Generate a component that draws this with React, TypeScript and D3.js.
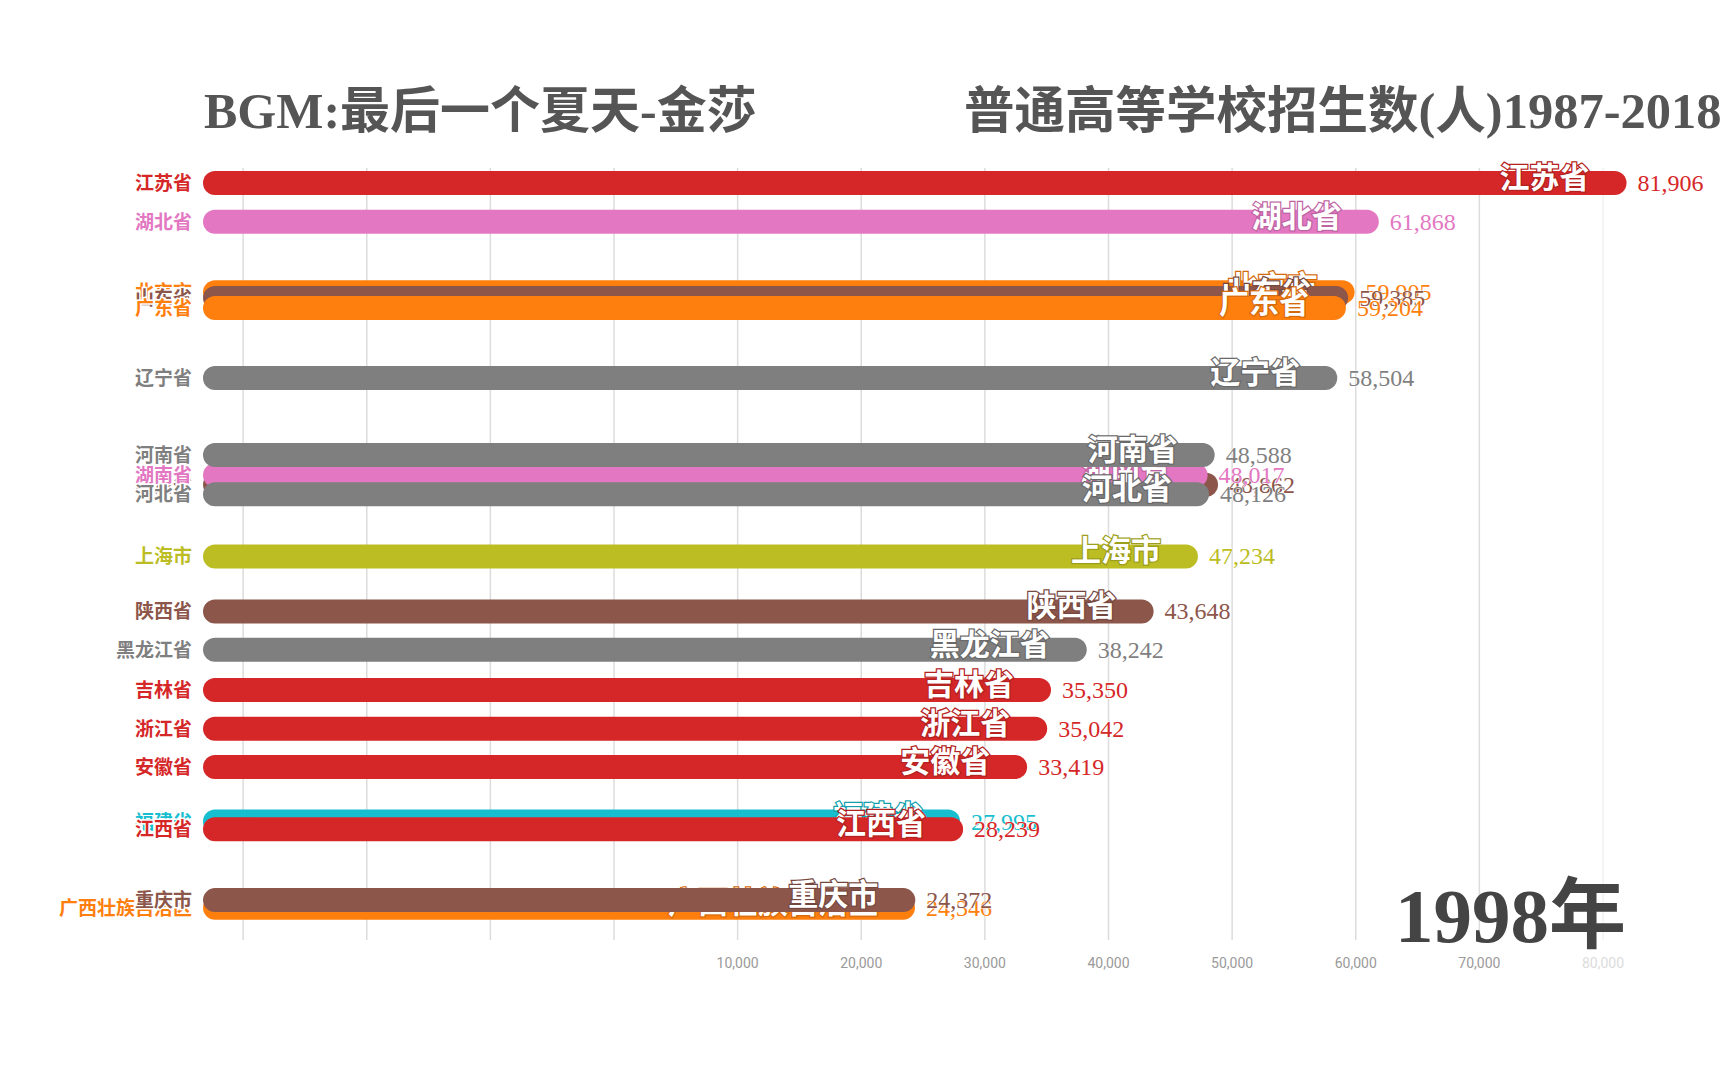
import React from "react";
import * as d3 from "d3";

// ---- data (frame of 1998) ----
const provinces = [
  "北京市", "山东省", "广东省", "江苏省", "湖北省", "辽宁省",
  "四川省", "湖南省", "河南省", "河北省", "上海市", "陕西省",
  "黑龙江省", "吉林省", "浙江省", "安徽省", "福建省", "江西省",
  "广西壮族自治区", "重庆市",
];
const values = [
  59905, 59385, 59204, 81906, 61868, 58504,
  48862, 48017, 48588, 48126, 47234, 43648,
  38242, 35350, 35042, 33419, 27995, 28239,
  24346, 24372,
];
// interpolated (fractional) rank of each bar in this animation frame
const ranks = [
  2.82, 2.97, 3.23, 0, 1, 5.04,
  7.8, 7.55, 7.03, 8.04, 9.65, 11.07,
  12.06, 13.1, 14.1, 15.09, 16.5, 16.7,
  18.73, 18.53,
];
const tickValues = d3.range(-30000, 80001, 10000);
const yearLabel = "1998年";
const titleLeft = "BGM:最后一个夏天-金莎";
const titleRight = "普通高等学校招生数(人)1987-2018";

// ---- styles ----
const palette: Record<string, string> = {
  "江苏省": "#d62728", "湖北省": "#e377c2", "北京市": "#ff7f0e", "山东省": "#8c564b",
  "广东省": "#ff7f0e", "辽宁省": "#7f7f7f", "四川省": "#8c564b", "河南省": "#7f7f7f",
  "湖南省": "#e377c2", "河北省": "#7f7f7f", "上海市": "#bcbd22", "陕西省": "#8c564b",
  "黑龙江省": "#7f7f7f", "吉林省": "#d62728", "浙江省": "#d62728", "安徽省": "#d62728",
  "福建省": "#17becf", "江西省": "#d62728", "广西壮族自治区": "#ff7f0e", "重庆市": "#8c564b",
};

const W = 1728;
const H = 1080;
const barLeft = 203;
const barH = 24;
const CJK = "'Noto Sans CJK SC', 'Noto Sans', sans-serif";
const SERIF = "'Liberation Serif', 'Noto Sans CJK SC', serif";

export default function App() {
  const x = d3.scaleLinear().domain([0, 80000]).range([614, 1603]);
  const y = d3.scaleLinear().domain([0, 1]).range([183, 221.7]);
  const fmt = d3.format(",");
  const rows = provinces.map((p, i) => ({ name: p, value: values[i], rank: ranks[i] }));

  return (
    <svg
      width={W}
      height={H}
      viewBox={`0 0 ${W} ${H}`}
      style={{ position: "absolute", left: 0, top: 0, background: "#fff" }}
    >
      <rect x={0} y={0} width={W} height={H} fill="#fff" />
      {/* grid */}
      <g>
        {tickValues.map((t) => (
          <line
            key={t}
            x1={x(t)}
            x2={x(t)}
            y1={168}
            y2={940}
            stroke="#dcdcdc"
            strokeWidth={1.5}
            opacity={t === 80000 ? 0.35 : 1}
          />
        ))}
        {tickValues
          .filter((t) => t > 0)
          .map((t) => (
            <text
              key={"l" + t}
              x={x(t)}
              y={968}
              textAnchor="middle"
              fontFamily="Roboto, sans-serif"
              fontSize={14}
              fill="#9a9a9a"
              opacity={t === 80000 ? 0.35 : 1}
            >
              {fmt(t)}
            </text>
          ))}
      </g>

      {/* titles */}
      <text x={204} y={128} fontFamily={SERIF} fontWeight="bold" fontSize={50} fill="#555">
        {titleLeft}
      </text>
      <text x={964} y={128} fontFamily={SERIF} fontWeight="bold" fontSize={50.5} fill="#555">
        {titleRight}
      </text>

      {/* bars */}
      {rows.map((d) => {
        const c = palette[d.name];
        const cy = y(d.rank);
        const xe = x(d.value);
        const dark = d3.color(c)!.darker(0.5).formatHex();
        return (
          <g key={d.name}>
            <rect
              x={barLeft}
              y={cy - barH / 2}
              width={xe - barLeft}
              height={barH}
              rx={barH / 2}
              ry={barH / 2}
              fill={c}
            />
            <text
              x={192}
              y={cy + 7}
              textAnchor="end"
              fontFamily={CJK}
              fontWeight="bold"
              fontSize={19}
              fill={c}
              stroke="#fff"
              strokeWidth={3}
              style={{ paintOrder: "stroke" }}
            >
              {d.name}
            </text>
            <text
              x={xe - 37}
              y={cy + 5}
              textAnchor="end"
              fontFamily={CJK}
              fontWeight="bold"
              fontSize={30}
              fill="#fff"
              stroke={dark}
              strokeWidth={2.5}
              style={{ paintOrder: "stroke" }}
            >
              {d.name}
            </text>
            <text
              x={xe + 11}
              y={cy + 8}
              fontFamily={SERIF}
              fontSize={24}
              fill={c}
              stroke="#fff"
              strokeWidth={1}
              style={{ paintOrder: "stroke" }}
            >
              {fmt(d.value)}
            </text>
          </g>
        );
      })}

      {/* year */}
      <text
        x={1626}
        y={942}
        textAnchor="end"
        fontFamily={SERIF}
        fontWeight="bold"
        fontSize={77}
        fill="#444"
      >
        {yearLabel}
      </text>
    </svg>
  );
}
